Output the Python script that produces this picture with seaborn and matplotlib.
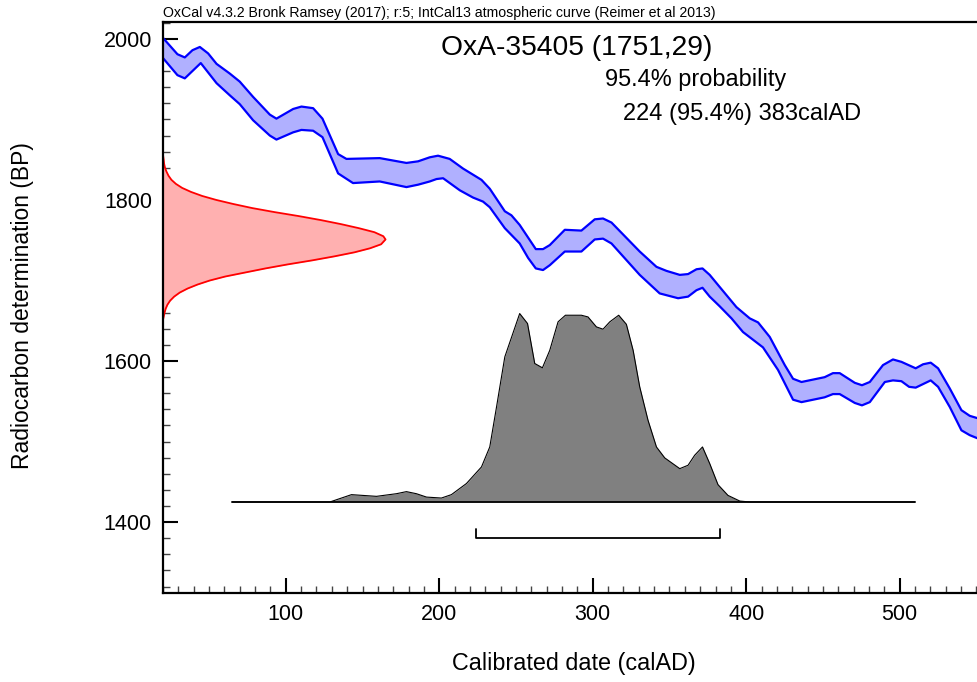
import numpy as np
import pandas as pd
import matplotlib
matplotlib.use("Agg")
import matplotlib.pyplot as plt
from matplotlib.ticker import MultipleLocator
import seaborn as sns

# calibration curve (IntCal13) band
upper_x = [20.1, 29.4, 34.2, 39.2, 44.0, 49.4, 54.9, 63.5, 70.0, 78.7, 89.6, 93.9, 104.8, 110.2,
           117.8, 123.9, 134.1, 139.5, 161.2, 178.6, 186.2, 193.8, 199.2, 206.8, 215.5, 227.5,
           232.9, 242.7, 247.0, 252.4, 262.9, 267.6, 272.0, 281.8, 292.6, 301.3, 306.7, 312.2,
           330.6, 341.5, 348.0, 356.7, 362.1, 367.6, 371.5, 376.2, 382.7, 393.6, 402.3, 407.7,
           415.3, 425.1, 430.5, 436.0, 451.1, 456.5, 460.9, 470.7, 475.4, 480.5, 489.1, 495.6,
           501.1, 510.4, 515.2, 520.2, 525.0, 532.6, 540.2, 545.6, 550.8]
upper_bp = [2001, 1981, 1977, 1986, 1990, 1982, 1969, 1957, 1947, 1928, 1906, 1901, 1913, 1916,
            1914, 1901, 1857, 1851, 1852, 1846, 1848, 1853, 1855, 1851, 1839, 1825,
            1814, 1786, 1781, 1769, 1739, 1739, 1744, 1763, 1762, 1776, 1777, 1772,
            1736, 1717, 1712, 1707, 1708, 1714, 1715, 1707, 1692, 1667, 1653, 1648,
            1630, 1595, 1578, 1574, 1580, 1585, 1585, 1573, 1570, 1574, 1595, 1602,
            1599, 1591, 1596, 1598, 1591, 1566, 1539, 1532, 1529]
lower_x = [20.1, 29.4, 34.2, 44.6, 54.9, 63.5, 70.0, 78.7, 89.6, 93.9, 104.8, 110.2, 117.8,
           123.9, 134.1, 143.8, 161.2, 178.6, 186.2, 193.8, 198.2, 202.5, 213.4, 222.0, 228.5,
           232.9, 242.7, 252.4, 257.9, 262.9, 267.6, 272.0, 281.8, 292.6, 301.3, 306.7, 312.2,
           330.6, 343.6, 355.6, 362.1, 367.6, 371.5, 376.2, 382.7, 390.4, 397.9, 410.9, 420.7,
           430.5, 436.0, 451.1, 456.5, 460.9, 470.7, 475.4, 480.5, 490.3, 495.6, 501.1, 506.1,
           510.4, 520.2, 525.0, 532.6, 540.2, 545.6, 550.8]
lower_bp = [1976, 1955, 1951, 1970, 1945, 1930, 1919, 1899, 1880, 1875, 1884, 1887, 1886,
            1878, 1833, 1821, 1823, 1816, 1819, 1823, 1826, 1827, 1812, 1803, 1798,
            1791, 1765, 1746, 1728, 1715, 1713, 1719, 1736, 1736, 1751, 1752, 1746,
            1707, 1684, 1678, 1680, 1688, 1691, 1680, 1668, 1653, 1636, 1617, 1589,
            1552, 1549, 1555, 1559, 1559, 1548, 1545, 1549, 1574, 1576, 1575, 1568,
            1567, 1576, 1568, 1543, 1514, 1508, 1504]

# radiocarbon measurement OxA-35405 (1751, 29) shown on the y axis
c14_bp = [1856, 1850, 1845, 1840, 1835, 1830, 1825, 1820, 1815, 1810, 1805, 1800, 1795, 1790,
          1785, 1780, 1775, 1770, 1765, 1760, 1755, 1751, 1745, 1740, 1735, 1730, 1725, 1720,
          1715, 1710, 1705, 1700, 1695, 1690, 1685, 1680, 1675, 1670, 1665, 1660, 1655, 1651]
c14_prob = [0.0, 0.003, 0.005, 0.009, 0.016, 0.025, 0.038, 0.058, 0.086, 0.126, 0.176, 0.24,
            0.316, 0.40, 0.50, 0.61, 0.71, 0.80, 0.88, 0.95, 0.99, 1.0, 0.98, 0.93, 0.86, 0.77,
            0.67, 0.56, 0.46, 0.37, 0.28, 0.21, 0.155, 0.11, 0.075, 0.05, 0.032, 0.02, 0.012,
            0.007, 0.003, 0.0]

# calibrated date distribution
cal_x = [65, 128.7, 142.8, 159.1, 172.1, 178.6, 185.1, 191.7, 201.4, 207.9, 217.7, 227.5, 232.9,
         237.3, 242.7, 252.4, 257.5, 262.2, 267.2, 272.0, 277.4, 282.2, 292.6, 296.9, 302.4,
         306.7, 311.1, 316.9, 321.9, 326.3, 330.6, 336.0, 341.5, 346.9, 356.7, 362.1, 366.4,
         371.5, 376.2, 381.6, 388.1, 395.8, 402.3, 510]
cal_prob = [0, 0, 0.039, 0.030, 0.044, 0.055, 0.044, 0.026, 0.021, 0.039, 0.098, 0.186, 0.292,
            0.504, 0.770, 1.0, 0.947, 0.735, 0.712, 0.805, 0.956, 0.991, 0.991, 0.982, 0.929,
            0.917, 0.956, 0.991, 0.943, 0.805, 0.611, 0.434, 0.292, 0.234, 0.177, 0.195, 0.248,
            0.292, 0.204, 0.092, 0.035, 0.005, 0, 0]

range_from, range_to = 224, 383
baseline_bp = 1425
title_text = "OxCal v4.3.2 Bronk Ramsey (2017); r:5; IntCal13 atmospheric curve (Reimer et al 2013)"
sample_text = "OxA-35405 (1751,29)"
prob_text = "95.4% probability"
range_text = "224 (95.4%) 383calAD"

sns.set_style("ticks")
plt.rcParams["font.family"] = ["Liberation Sans", "DejaVu Sans"]
plt.rcParams["text.color"] = "black"
plt.rcParams["axes.labelcolor"] = "black"
plt.rcParams["xtick.color"] = "black"
plt.rcParams["ytick.color"] = "black"

fig = plt.figure(figsize=(9.78, 6.82), dpi=100)
ax = fig.add_axes([163 / 978, 89 / 682, 815 / 978, 571 / 682])

# calibration band
band_x = np.concatenate([upper_x, lower_x[::-1]])
band_y = np.concatenate([upper_bp, lower_bp[::-1]])
ax.fill(band_x, band_y, color="#b0b0ff", lw=0)
up = pd.DataFrame({"x": upper_x, "y": upper_bp})
lo = pd.DataFrame({"x": lower_x, "y": lower_bp})
sns.lineplot(data=up, x="x", y="y", ax=ax, color="#0000ff", lw=1.6, sort=False, estimator=None)
sns.lineplot(data=lo, x="x", y="y", ax=ax, color="#0000ff", lw=1.6, sort=False, estimator=None)

# radiocarbon date on the y axis
x0 = 20
c14_x = x0 + np.array(c14_prob) * 145
ax.fill_betweenx(c14_bp, x0, c14_x, color="#ffb0b0", lw=0)
ax.plot(c14_x, c14_bp, color="#ff0000", lw=1.3)

# calibrated distribution
cal_y = baseline_bp + np.array(cal_prob) * 234
ax.fill_between(cal_x, baseline_bp, cal_y, color="#808080", lw=0)
ax.plot(cal_x, cal_y, color="black", lw=0.8)
ax.plot([cal_x[0], cal_x[-1]], [baseline_bp, baseline_bp], color="black", lw=1.3)

# 95.4% range bracket
ax.plot([range_from, range_from, range_to, range_to], [1391, 1380, 1380, 1391], color="black", lw=1.3)

ax.set_xlim(20, 551)
ax.set_ylim(1312, 2021)
ax.xaxis.set_major_locator(MultipleLocator(100))
ax.xaxis.set_minor_locator(MultipleLocator(10))
ax.yaxis.set_major_locator(MultipleLocator(200))
ax.yaxis.set_minor_locator(MultipleLocator(20))
ax.tick_params(which="both", direction="in", top=False, right=False)
ax.tick_params(which="major", length=10.5, width=1.5, labelsize=15.5, pad=8, color="black")
ax.tick_params(which="minor", length=5, width=1.0, color="#444444")
for side in ["left", "bottom", "top"]:
    ax.spines[side].set_linewidth(1.6)
    ax.spines[side].set_color("black")
ax.spines["right"].set_visible(False)

ax.set_xlabel("Calibrated date (calAD)", fontsize=16.8)
ax.set_ylabel("Radiocarbon determination (BP)", fontsize=16.5)
ax.xaxis.set_label_coords(0.504, -0.1226)
ax.xaxis.label.set_va("center")
ax.yaxis.set_label_coords(-0.173, 0.503)
ax.yaxis.label.set_va("center")

fig.text(163 / 978, 1 - 17.5 / 682, title_text, fontsize=10.2, va="baseline", ha="left")
ax.text(0.507, 0.954, sample_text, transform=ax.transAxes, fontsize=20.3, ha="center", va="center")
ax.text(0.654, 0.899, prob_text, transform=ax.transAxes, fontsize=16.9, ha="center", va="center")
ax.text(0.710, 0.839, range_text, transform=ax.transAxes, fontsize=17, ha="center", va="center")

fig.savefig("out.png", dpi=100)
